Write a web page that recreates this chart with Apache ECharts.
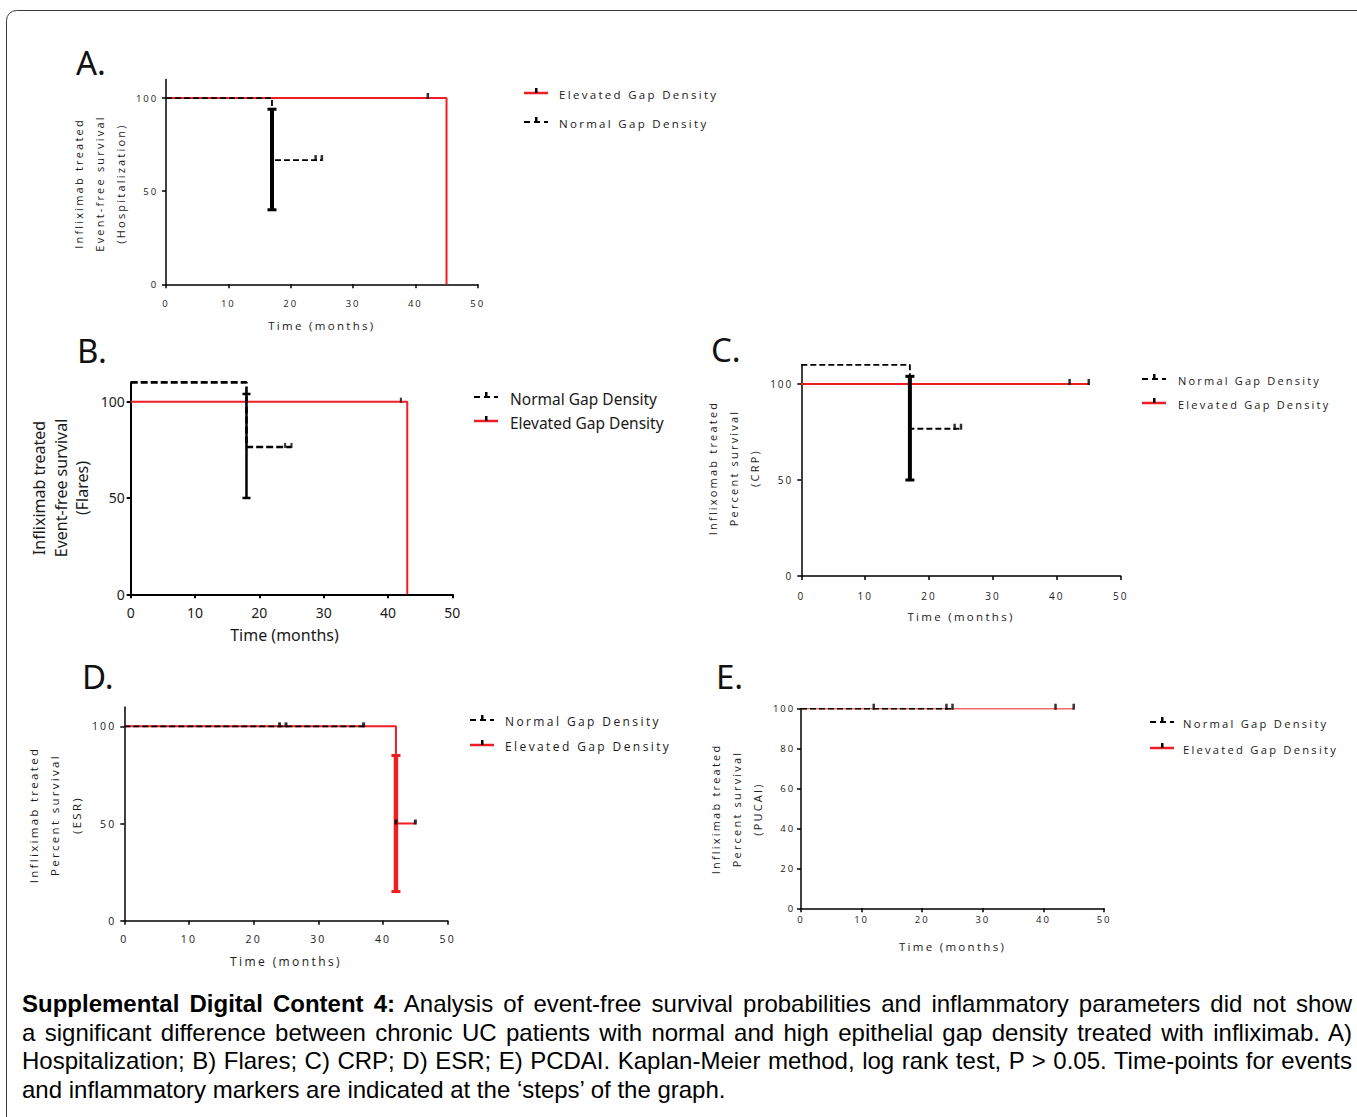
<!DOCTYPE html>
<html>
<head>
<meta charset="utf-8">
<script src="https://cdn.jsdelivr.net/npm/echarts@6/dist/echarts.min.js"></script>
<style>
html,body{margin:0;padding:0;background:#fff;}
#chart{position:absolute;left:0;top:0;width:1357px;height:1117px;}
#chart text[style*="Open Sans"]{letter-spacing:0.2em;}
#caption{position:absolute;left:22px;top:990px;width:1330px;font-family:"Liberation Sans",Arial,sans-serif;font-size:24px;line-height:28.5px;color:#000;}
#caption div{text-align:justify;text-align-last:justify;}
#caption div.last{text-align-last:left;}
</style>
</head>
<body>
<div id="chart"></div>
<div id="caption">
<div><b>Supplemental Digital Content 4:</b> Analysis of event-free survival probabilities and inflammatory parameters did not show</div>
<div>a significant difference between chronic UC patients with normal and high epithelial gap density treated with infliximab. A)</div>
<div>Hospitalization; B) Flares; C) CRP; D) ESR; E) PCDAI. Kaplan-Meier method, log rank test, P &gt; 0.05. Time-points for events</div>
<div class="last">and inflammatory markers are indicated at the ‘steps’ of the graph.</div>
</div>
<script>
// ================= DATA =================
const xTickValues = [0, 10, 20, 30, 40, 50];
const yTickValues = [0, 50, 100];
const yTickValuesE = [0, 20, 40, 60, 80, 100];
const NORMAL = 'Normal Gap Density';
const ELEVATED = 'Elevated Gap Density';
const xTitle = 'Time (months)';

// A. Hospitalization
const hospNormal = [[0, 100], [17, 100], [17, 66.7], [25, 66.7]];
const hospNormalCensor = [[24, 66.7], [25, 66.7]];
const hospElevated = [[0, 100], [45, 100], [45, 0]];
const hospElevatedCensor = [[42, 100]];
const hospErrorBar = [[17, 40, 94]];

// B. Flares
const flareNormal = [[0, 110], [18, 110], [18, 76.5], [25, 76.5]];
const flareNormalCensor = [[24, 76.5], [25, 76.5]];
const flareElevated = [[0, 100], [43, 100], [43, 0]];
const flareElevatedCensor = [[42, 100]];
const flareErrorBar = [[18, 50, 104]];

// C. CRP
const crpNormal = [[0, 110], [17, 110], [17, 76.7], [25, 76.7]];
const crpNormalCensor = [[24, 76.7], [25, 76.7]];
const crpElevated = [[0, 100], [45, 100]];
const crpElevatedCensor = [[42, 100], [45, 100]];
const crpErrorBar = [[17, 50, 104]];

// D. ESR
const esrNormal = [[0, 100], [37, 100]];
const esrNormalCensor = [[24, 100], [25, 100], [37, 100]];
const esrElevated = [[0, 100], [42, 100], [42, 50], [45, 50]];
const esrElevatedCensor = [[42, 50], [45, 50]];
const esrErrorBar = [[42, 15, 85]];

// E. PUCAI
const pucaiNormal = [[0, 100], [25, 100]];
const pucaiNormalCensor = [[12, 100], [24, 100], [25, 100]];
const pucaiElevated = [[0, 100], [45, 100]];
const pucaiElevatedCensor = [[42, 100], [45, 100]];
const pucaiErrorBar = [];

// ================= LAYOUT / STYLE =================
const RED = '#f01e23';
const SP = 'Open Sans';   // letter-spaced text
const NS = 'Noto Sans';   // normal text

const panels = [
  { letter: 'A.', letterPos: [76, 62], grid: { left: 166, top: 79.4, width: 311.7, height: 204.9 },
    yMax: 110, yInterval: 50, yTicks: yTickValues,
    normal: hospNormal, normalCensor: hospNormalCensor, elevated: hospElevated, elevatedCensor: hospElevatedCensor,
    err: hospErrorBar, errColor: '#000', errW: 4, capW: 9, capLw: 3,
    font: SP, tickSize: 9.5, titleSize: 11, xMargin: 14, yMargin: 8, xNameGap: 35, xNamePad: [0, 0, 0, 0],
    yTitle: ['Infliximab treated', 'Event-free survival', '(Hospitalization)'], yTitlePos: [99, 183.5], yTitleLH: 21,
    lw: 1.5, redW: 2, dashW: 1.8, dash: [6, 3], censorSize: [2.5, 6],
    legend: { x: 524, tx: 559, order: [ELEVATED, NORMAL], y: [93, 122], size: 11.5, font: SP } },
  { letter: 'B.', letterPos: [77, 350], grid: { left: 130.7, top: 382.4, width: 321.6, height: 211.9 },
    yMax: 110, yInterval: 50, yTicks: yTickValues,
    normal: flareNormal, normalCensor: flareNormalCensor, elevated: flareElevated, elevatedCensor: flareElevatedCensor,
    err: flareErrorBar, errColor: '#000', errW: 2.5, capW: 8, capLw: 2.5,
    font: NS, tickSize: 14, titleSize: 16, xMargin: 11, yMargin: 6, xNameGap: 33, xNamePad: [0, 14, 0, 0],
    yTitle: ['Infliximab treated', 'Event-free survival', '(Flares)'], yTitlePos: [60.5, 488], yTitleLH: 21.5,
    lw: 2, redW: 2, dashW: 2.6, dash: [7, 3], censorSize: [2, 5],
    legend: { x: 474, tx: 510, order: [NORMAL, ELEVATED], y: [397, 421], size: 15.5, font: NS } },
  { letter: 'C.', letterPos: [711, 349], grid: { left: 801.3, top: 364.8, width: 319.4, height: 211.2 },
    yMax: 110, yInterval: 50, yTicks: yTickValues,
    normal: crpNormal, normalCensor: crpNormalCensor, elevated: crpElevated, elevatedCensor: crpElevatedCensor,
    err: crpErrorBar, errColor: '#000', errW: 4, capW: 9, capLw: 3,
    font: SP, tickSize: 10, titleSize: 11, xMargin: 15, yMargin: 8, xNameGap: 34, xNamePad: [0, 0, 0, 0],
    yTitle: ['Inflixomab treated', 'Percent survival', '(CRP)'], yTitlePos: [733, 468], yTitleLH: 21,
    lw: 1.5, redW: 2, dashW: 1.8, dash: [6, 3], censorSize: [2.5, 6],
    legend: { x: 1142, tx: 1178, order: [NORMAL, ELEVATED], y: [379, 403], size: 11, font: SP } },
  { letter: 'D.', letterPos: [82, 676], grid: { left: 124.3, top: 706.9, width: 323.4, height: 213.8 },
    yMax: 110, yInterval: 50, yTicks: yTickValues,
    normal: esrNormal, normalCensor: esrNormalCensor, elevated: esrElevated, elevatedCensor: esrElevatedCensor,
    err: esrErrorBar, errColor: RED, errW: 4.5, capW: 9, capLw: 3,
    font: SP, tickSize: 10.5, titleSize: 11.5, xMargin: 13, yMargin: 8, xNameGap: 35, xNamePad: [0, 0, 0, 0],
    yTitle: ['Infliximab treated', 'Percent survival', '(ESR)'], yTitlePos: [54.5, 815], yTitleLH: 21.5,
    lw: 1.5, redW: 2, dashW: 1.6, dash: [6, 3], censorSize: [3, 5],
    legend: { x: 470, tx: 505, order: [NORMAL, ELEVATED], y: [720, 745], size: 12, font: SP } },
  { letter: 'E.', letterPos: [716, 676], grid: { left: 801, top: 708.7, width: 303, height: 199.6 },
    yMax: 100, yInterval: 20, yTicks: yTickValuesE,
    normal: pucaiNormal, normalCensor: pucaiNormalCensor, elevated: pucaiElevated, elevatedCensor: pucaiElevatedCensor,
    err: pucaiErrorBar, errColor: '#000', errW: 3, capW: 8, capLw: 3,
    font: SP, tickSize: 9.5, titleSize: 11, xMargin: 6, yMargin: 6, xNameGap: 32, xNamePad: [0, 0, 0, 0],
    yTitle: ['Infliximab treated', 'Percent survival', '(PUCAI)'], yTitlePos: [736.5, 809], yTitleLH: 21,
    lw: 1.5, redW: 1.5, redColor: '#f36a6a', dashW: 1.6, dash: [6, 3], censorSize: [2.5, 6],
    legend: { x: 1150, tx: 1183, order: [NORMAL, ELEVATED], y: [722, 748], size: 11.2, font: SP } }
];

function errRender(color, lw, capW, capLw) {
  return function (params, api) {
    const x = api.value(0), lo = api.value(1), hi = api.value(2);
    const t = api.coord([x, hi]), b = api.coord([x, lo]);
    return { type: 'group', children: [
      { type: 'line', shape: { x1: t[0], y1: t[1], x2: b[0], y2: b[1] }, style: { stroke: color, lineWidth: lw } },
      { type: 'line', shape: { x1: t[0] - capW / 2, y1: t[1], x2: t[0] + capW / 2, y2: t[1] }, style: { stroke: color, lineWidth: capLw } },
      { type: 'line', shape: { x1: b[0] - capW / 2, y1: b[1], x2: b[0] + capW / 2, y2: b[1] }, style: { stroke: color, lineWidth: capLw } }
    ] };
  };
}

const grids = [], xAxes = [], yAxes = [], series = [], graphics = [];

// frame
graphics.push({ type: 'rect', shape: { x: 6.5, y: 10.5, width: 1500, height: 1300, r: 10 },
  style: { fill: 'none', stroke: '#3a3a3a', lineWidth: 1 }, silent: true });

panels.forEach(function (p, i) {
  grids.push(Object.assign({ containLabel: false }, p.grid));
  xAxes.push({
    gridIndex: i, type: 'value', min: 0, max: 50, interval: 10,
    axisLine: { show: true, onZero: false, lineStyle: { color: '#000', width: p.lw } },
    axisTick: { show: true, length: 4, lineStyle: { color: '#000', width: p.lw } },
    axisLabel: { margin: p.xMargin, fontSize: p.tickSize, fontFamily: p.font, color: '#1a1a1a', customValues: xTickValues },
    splitLine: { show: false },
    name: xTitle, nameLocation: 'middle', nameGap: p.xNameGap,
    nameTextStyle: { fontSize: p.titleSize + (p.font === NS ? 0 : 0.5), fontFamily: p.font, color: '#1a1a1a', padding: p.xNamePad }
  });
  yAxes.push({
    gridIndex: i, type: 'value', min: 0, max: p.yMax, interval: p.yInterval,
    axisLine: { show: true, onZero: false, lineStyle: { color: '#000', width: p.lw } },
    axisTick: { show: true, length: 4, lineStyle: { color: '#000', width: p.lw }, customValues: p.yTicks },
    axisLabel: { margin: p.yMargin, fontSize: p.tickSize, fontFamily: p.font, color: '#1a1a1a', customValues: p.yTicks },
    splitLine: { show: false }
  });
  const redColor = p.redColor || RED;
  series.push({ type: 'line', name: ELEVATED, xAxisIndex: i, yAxisIndex: i, data: p.elevated, symbol: 'none',
    lineStyle: { color: redColor, width: p.redW }, z: 2, silent: true, animation: false });
  series.push({ type: 'line', name: NORMAL, xAxisIndex: i, yAxisIndex: i, data: p.normal, symbol: 'none',
    lineStyle: { color: '#000', width: p.dashW, type: p.dash }, z: 3, silent: true, animation: false });
  if (p.err.length) {
    series.push({ type: 'custom', xAxisIndex: i, yAxisIndex: i, data: p.err, encode: { x: 0, y: [1, 2] },
      renderItem: errRender(p.errColor, p.errW, p.capW, p.capLw), z: 4, silent: true, animation: false });
  }
  [p.normalCensor, p.elevatedCensor].forEach(function (d) {
    series.push({ type: 'scatter', xAxisIndex: i, yAxisIndex: i, data: d, symbol: 'rect',
      symbolSize: p.censorSize, symbolOffset: [0, -p.censorSize[1] / 2 + 1], itemStyle: { color: '#000' },
      z: 5, silent: true, animation: false });
  });

  // panel letter
  graphics.push({ type: 'text', x: p.letterPos[0], y: p.letterPos[1], silent: true,
    style: { text: p.letter, font: '33px "Noto Sans"', fill: '#111', align: 'left', verticalAlign: 'middle' } });
  // y title
  graphics.push({ type: 'text', x: p.yTitlePos[0], y: p.yTitlePos[1], rotation: Math.PI / 2, silent: true,
    style: { text: p.yTitle.join('\n'), fontSize: p.titleSize, fontFamily: p.font, fill: '#1a1a1a',
      align: 'center', verticalAlign: 'middle', lineHeight: p.yTitleLH } });
  // legend
  const L = p.legend;
  L.order.forEach(function (name, k) {
    const y = L.y[k];
    if (name === ELEVATED) {
      graphics.push({ type: 'line', silent: true, shape: { x1: L.x, y1: y, x2: L.x + 24, y2: y },
        style: { stroke: RED, lineWidth: 2.5 } });
    } else {
      graphics.push({ type: 'line', silent: true, shape: { x1: L.x, y1: y, x2: L.x + 24, y2: y },
        style: { stroke: '#000', lineWidth: 2, lineDash: [6, 4] } });
    }
    graphics.push({ type: 'rect', silent: true, shape: { x: L.x + 11, y: y - 5, width: 2.5, height: 5 },
      style: { fill: '#000' } });
    graphics.push({ type: 'text', silent: true, x: L.tx, y: y + 1.5,
      style: { text: name, fontSize: L.size, fontFamily: L.font, fill: '#1a1a1a', align: 'left', verticalAlign: 'middle' } });
  });
});

const chart = echarts.init(document.getElementById('chart'), null, { renderer: 'svg' });
chart.setOption({
  animation: false,
  backgroundColor: 'transparent',
  grid: grids, xAxis: xAxes, yAxis: yAxes, series: series, graphic: graphics
});
</script>
</body>
</html>
